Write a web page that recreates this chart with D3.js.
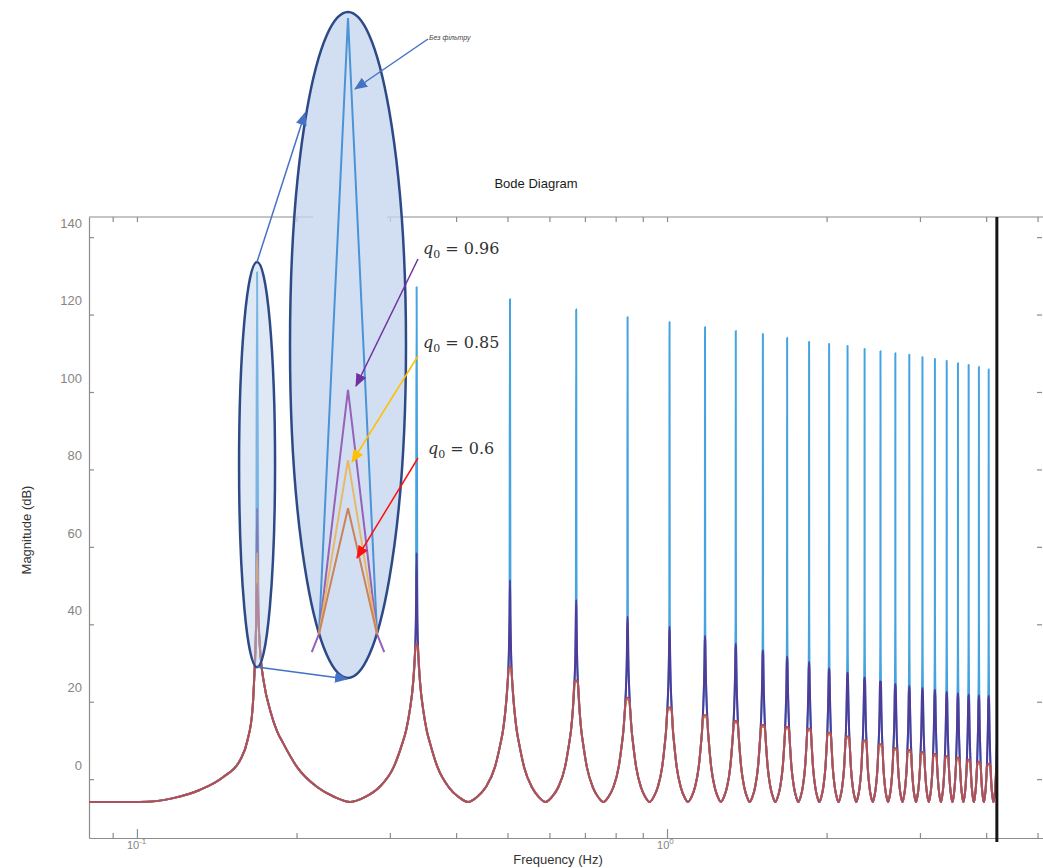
<!DOCTYPE html>
<html>
<head>
<meta charset="utf-8">
<script src="https://cdn.jsdelivr.net/npm/d3@7/dist/d3.min.js"></script>
<style>
  body { margin: 0; background: #fff; }
  svg { display: block; font-family: Arial, "Liberation Sans", sans-serif; }
</style>
</head>
<body>
<div class="bode-div"></div>
<script>
// resonance peaks (Hz) and peak magnitude (dB) for each curve
var peakHz = [0.1685, 0.337, 0.5055, 0.674, 0.8425, 1.011, 1.1795, 1.348, 1.5165, 1.685, 1.8535, 2.022,
  2.1905, 2.359, 2.5275, 2.696, 2.8645, 3.033, 3.2015, 3.37, 3.5385, 3.707, 3.8755, 4.044];
var blueDb = [131, 127.1, 124.0, 121.4, 119.4, 118.1, 116.8, 115.8, 115.0, 114.0, 112.9, 112.4,
  111.9, 111.1, 110.6, 110.1, 109.6, 109.0, 108.5, 108.0, 107.5, 107.0, 106.5, 105.9];
var purpleDb = [70, 58.4, 51.4, 46.3, 41.9, 39.3, 37.0, 35.0, 33.2, 31.6, 30.2, 28.6,
  27.5, 26.2, 25.2, 24.5, 24.0, 23.5, 23.0, 22.5, 22.1, 21.8, 21.6, 21.5];
var orangeDb = [58.5, 34.5, 28.5, 25, 20.5, 18, 16, 14.5, 13.5, 13, 12.5, 11.5,
  10.5, 9.5, 8.5, 7.5, 7, 6.5, 6, 5.5, 5, 4.5, 4, 3.5];
var redDb = [50.6, 35, 29, 25.5, 21, 18.5, 16.5, 15, 14, 13.5, 13, 12,
  11, 10, 9, 8, 7.5, 7, 6.5, 6, 5.5, 5, 4.5, 4];

// run-up to the first peak
var lowHz = [0.0812, 0.1011, 0.1171, 0.1313, 0.1453, 0.1565, 0.1617, 0.1652, 0.1663, 0.1678];
var lowDb = [-5.9, -5.9, -4.9, -2.8, 0.5, 4.9, 10.1, 18, 25, 40];

// shape of one lobe between two neighbouring peaks (u = fraction of the spacing)
var lobeU = [0.006, 0.015, 0.03, 0.06, 0.09, 0.12, 0.19, 0.3, 0.4, 0.5, 0.6, 0.7, 0.81, 0.88, 0.91, 0.94, 0.97, 0.985, 0.994];
var lobeDb = [42, 32, 25, 17.5, 12.5, 9.3, 3.1, -2.1, -4.6, -5.9, -4.6, -2.1, 3.1, 9.3, 12.5, 17.5, 25, 32, 42];

// zoomed view of the first peak
var insetHz = [0.1640, 0.1649, 0.1685, 0.1721, 0.1730];
var insetFootDb = [30, 30];
var insetTailDb = [27, 30, 30, 27];

var yTicks = [0, 20, 40, 60, 80, 100, 120, 140];
var xTicks = [0.09, 0.1, 0.2, 0.3, 0.4, 0.5, 0.6, 0.7, 0.8, 0.9, 1, 2, 3, 4, 5];
var xMajor = [0.1, 1];
var xMajorExp = ["-1", "0"];
var cutHz = 4.19;

var width = 1043, height = 868;
var x = d3.scaleLog().domain([0.0812, 5.12]).range([89, 1043]);
var y = d3.scaleLinear().domain([-15.2, 145.2]).range([838, 217]);

var svg = d3.select(".bode-div").append("svg").attr("width", width).attr("height", height);
var defs = svg.append("defs");

defs.append("clipPath").attr("id", "plot-clip").append("rect")
  .attr("x", x.range()[0]).attr("y", y.range()[1])
  .attr("width", x(cutHz) - x.range()[0]).attr("height", y.range()[0] - y.range()[1]);

var arrowColors = {blue: "#4472c4", purple: "#7030a0", gold: "#ffc000", red: "#ff1010"};
Object.keys(arrowColors).forEach(function(k) {
  defs.append("marker").attr("id", "head-" + k).attr("viewBox", "0 0 13 11")
    .attr("refX", 12).attr("refY", 5.5).attr("markerWidth", 13).attr("markerHeight", 11)
    .attr("markerUnits", "userSpaceOnUse").attr("orient", "auto")
    .append("path").attr("d", "M0,0L13,5.5L0,11Z").attr("fill", arrowColors[k]);
});

// ---- frame and axes
var axisColor = "#8c8c8c";
var gx = svg.append("g").attr("transform", "translate(0," + y.range()[0] + ")")
  .call(d3.axisBottom(x).tickValues(xTicks).tickSize(-5).tickSizeOuter(0).tickFormat(""));
gx.selectAll(".tick line").attr("y2", function(d) { return xMajor.indexOf(d) >= 0 ? -9 : -5; });

var gxt = svg.append("g").attr("transform", "translate(0," + y.range()[1] + ")")
  .call(d3.axisTop(x).tickValues(xTicks).tickSize(-5).tickSizeOuter(0).tickFormat(""));
gxt.select(".domain").remove();
gxt.append("line").attr("x1", x.range()[0]).attr("x2", 313);
gxt.append("line").attr("x1", 387).attr("x2", x.range()[1]);

var gy = svg.append("g").attr("transform", "translate(" + x.range()[0] + ",0)")
  .call(d3.axisLeft(y).tickValues(yTicks).tickSize(-5).tickSizeOuter(0).tickPadding(7));
gy.selectAll("text").attr("y", -14).attr("fill", "#858585").style("font-size", "13px");

var gyr = svg.append("g").attr("transform", "translate(" + (x.range()[1] - 1) + ",0)")
  .call(d3.axisRight(y).tickValues(yTicks).tickSize(-5).tickSizeOuter(0).tickFormat(""));
gyr.select(".domain").remove();

svg.selectAll(".domain, .tick line, g > line").attr("stroke", axisColor).attr("stroke-width", 1.2);

xMajor.forEach(function(t, i) {
  var lab = svg.append("text").attr("x", x(t) - 10).attr("y", y.range()[0] + 11)
    .attr("fill", "#858585").style("font-size", "11px");
  lab.append("tspan").text("10");
  lab.append("tspan").attr("dy", -5).style("font-size", "8px").text(xMajorExp[i]);
});

// ---- curves
function seriesPoints(peaks) {
  var pts = [];
  lowHz.forEach(function(f, i) { pts.push([f, Math.min(lowDb[i], peaks[0])]); });
  peakHz.forEach(function(f, n) {
    pts.push([f, peaks[n]]);
    var last = n === peakHz.length - 1;
    var step = last ? f - peakHz[n - 1] : peakHz[n + 1] - f;
    var next = last ? peaks[n] : peaks[n + 1];
    lobeU.forEach(function(u, k) {
      pts.push([f + u * step, Math.min(lobeDb[k], u < 0.5 ? peaks[n] : next)]);
    });
  });
  return pts;
}

var line = d3.line()
  .x(function(d) { return x(d[0]); })
  .y(function(d) { return y(d[1]); })
  .curve(d3.curveMonotoneX);

var series = [
  {peaks: blueDb, color: "#45a3e0"},
  {peaks: purpleDb, color: "#4f3c98"},
  {peaks: orangeDb, color: "#e0883a"},
  {peaks: redDb, color: "#ac4f5e"}
];

svg.append("g").attr("clip-path", "url(#plot-clip)")
  .selectAll("path").data(series).enter().append("path")
  .attr("d", function(d) { return line(seriesPoints(d.peaks)); })
  .attr("fill", "none").attr("stroke", function(d) { return d.color; })
  .attr("stroke-width", 2).attr("stroke-linejoin", "round");

svg.append("line").attr("x1", x(cutHz)).attr("x2", x(cutHz))
  .attr("y1", y.range()[1]).attr("y2", y.range()[0] + 4)
  .attr("stroke", "#161616").attr("stroke-width", 3);

// ---- annotations
var smallTopDb = 133.6, smallBottomDb = 28.9;
svg.append("ellipse")
  .attr("cx", x(peakHz[0])).attr("cy", (y(smallTopDb) + y(smallBottomDb)) / 2)
  .attr("rx", 18).attr("ry", (y(smallBottomDb) - y(smallTopDb)) / 2)
  .attr("fill", "#b7cbe8").attr("fill-opacity", 0.45)
  .attr("stroke", "#2d4a86").attr("stroke-width", 2.5);

svg.append("ellipse").attr("cx", 348).attr("cy", 345).attr("rx", 58).attr("ry", 333)
  .attr("fill", "#c5d6ee").attr("fill-opacity", 0.78)
  .attr("stroke", "#2d4a86").attr("stroke-width", 2.5);

var xi = d3.scaleLinear().domain([insetHz[1], insetHz[3]]).range([319, 377]);
var yi = d3.scaleLinear().domain([29, 131]).range([640, 18]);
var insetLine = d3.line()
  .x(function(d) { return xi(d[0]); })
  .y(function(d) { return yi(d[1]); });

var insetSeries = [
  {peak: blueDb[0], color: "#4a93d6", foot: insetFootDb},
  {peak: purpleDb[0], color: "#9562b8", foot: insetTailDb},
  {peak: orangeDb[0], color: "#e8b868", foot: insetFootDb},
  {peak: redDb[0], color: "#c98458", foot: insetFootDb}
];
svg.append("g").selectAll("path").data(insetSeries).enter().append("path")
  .attr("d", function(d) {
    var pts;
    if (d.foot.length === 2) {
      pts = [[insetHz[1], d.foot[0]], [insetHz[2], d.peak], [insetHz[3], d.foot[1]]];
    } else {
      pts = [[insetHz[0], d.foot[0]], [insetHz[1], d.foot[1]], [insetHz[2], d.peak],
             [insetHz[3], d.foot[2]], [insetHz[4], d.foot[3]]];
    }
    return insetLine(pts);
  })
  .attr("fill", "none").attr("stroke", function(d) { return d.color; }).attr("stroke-width", 2);

var arrows = [
  {x1: 257, y1: 262, x2: 305, y2: 113, c: "blue"},
  {x1: 257, y1: 667, x2: 347, y2: 679, c: "blue"},
  {x1: 428, y1: 39, x2: 355, y2: 89, c: "blue"},
  {x1: 418, y1: 259, x2: 356, y2: 386, c: "purple"},
  {x1: 418, y1: 356, x2: 352, y2: 462, c: "gold"},
  {x1: 418, y1: 458, x2: 357, y2: 558, c: "red"}
];
svg.append("g").selectAll("line").data(arrows).enter().append("line")
  .attr("x1", function(d) { return d.x1; }).attr("y1", function(d) { return d.y1; })
  .attr("x2", function(d) { return d.x2; }).attr("y2", function(d) { return d.y2; })
  .attr("stroke", function(d) { return arrowColors[d.c]; }).attr("stroke-width", 1.5)
  .attr("marker-end", function(d) { return "url(#head-" + d.c + ")"; });

svg.append("text").attr("x", 429).attr("y", 40).attr("fill", "#444")
  .style("font-size", "7px").style("font-style", "italic").text("Без фільтру");

var qLabels = [{v: "0.96", x: 423, y: 254}, {v: "0.85", x: 423, y: 348}, {v: "0.6", x: 428, y: 454}];
qLabels.forEach(function(d) {
  var t = svg.append("text").attr("x", d.x).attr("y", d.y).attr("fill", "#333")
    .style("font-family", "'DejaVu Serif', serif").style("font-size", "16px");
  t.append("tspan").style("font-style", "italic").text("q");
  t.append("tspan").attr("dy", 4).style("font-size", "11px").text("0");
  t.append("tspan").attr("dy", -4).text(" = " + d.v);
});

svg.append("text").attr("x", 536).attr("y", 188).attr("text-anchor", "middle")
  .attr("fill", "#1a1a1a").style("font-size", "13px").text("Bode Diagram");

svg.append("text").attr("x", 558).attr("y", 864).attr("text-anchor", "middle")
  .attr("fill", "#333").style("font-size", "13px").text("Frequency  (Hz)");

svg.append("text").attr("transform", "translate(31,530) rotate(-90)").attr("text-anchor", "middle")
  .attr("fill", "#333").style("font-size", "13px").text("Magnitude (dB)");
</script>
</body>
</html>
